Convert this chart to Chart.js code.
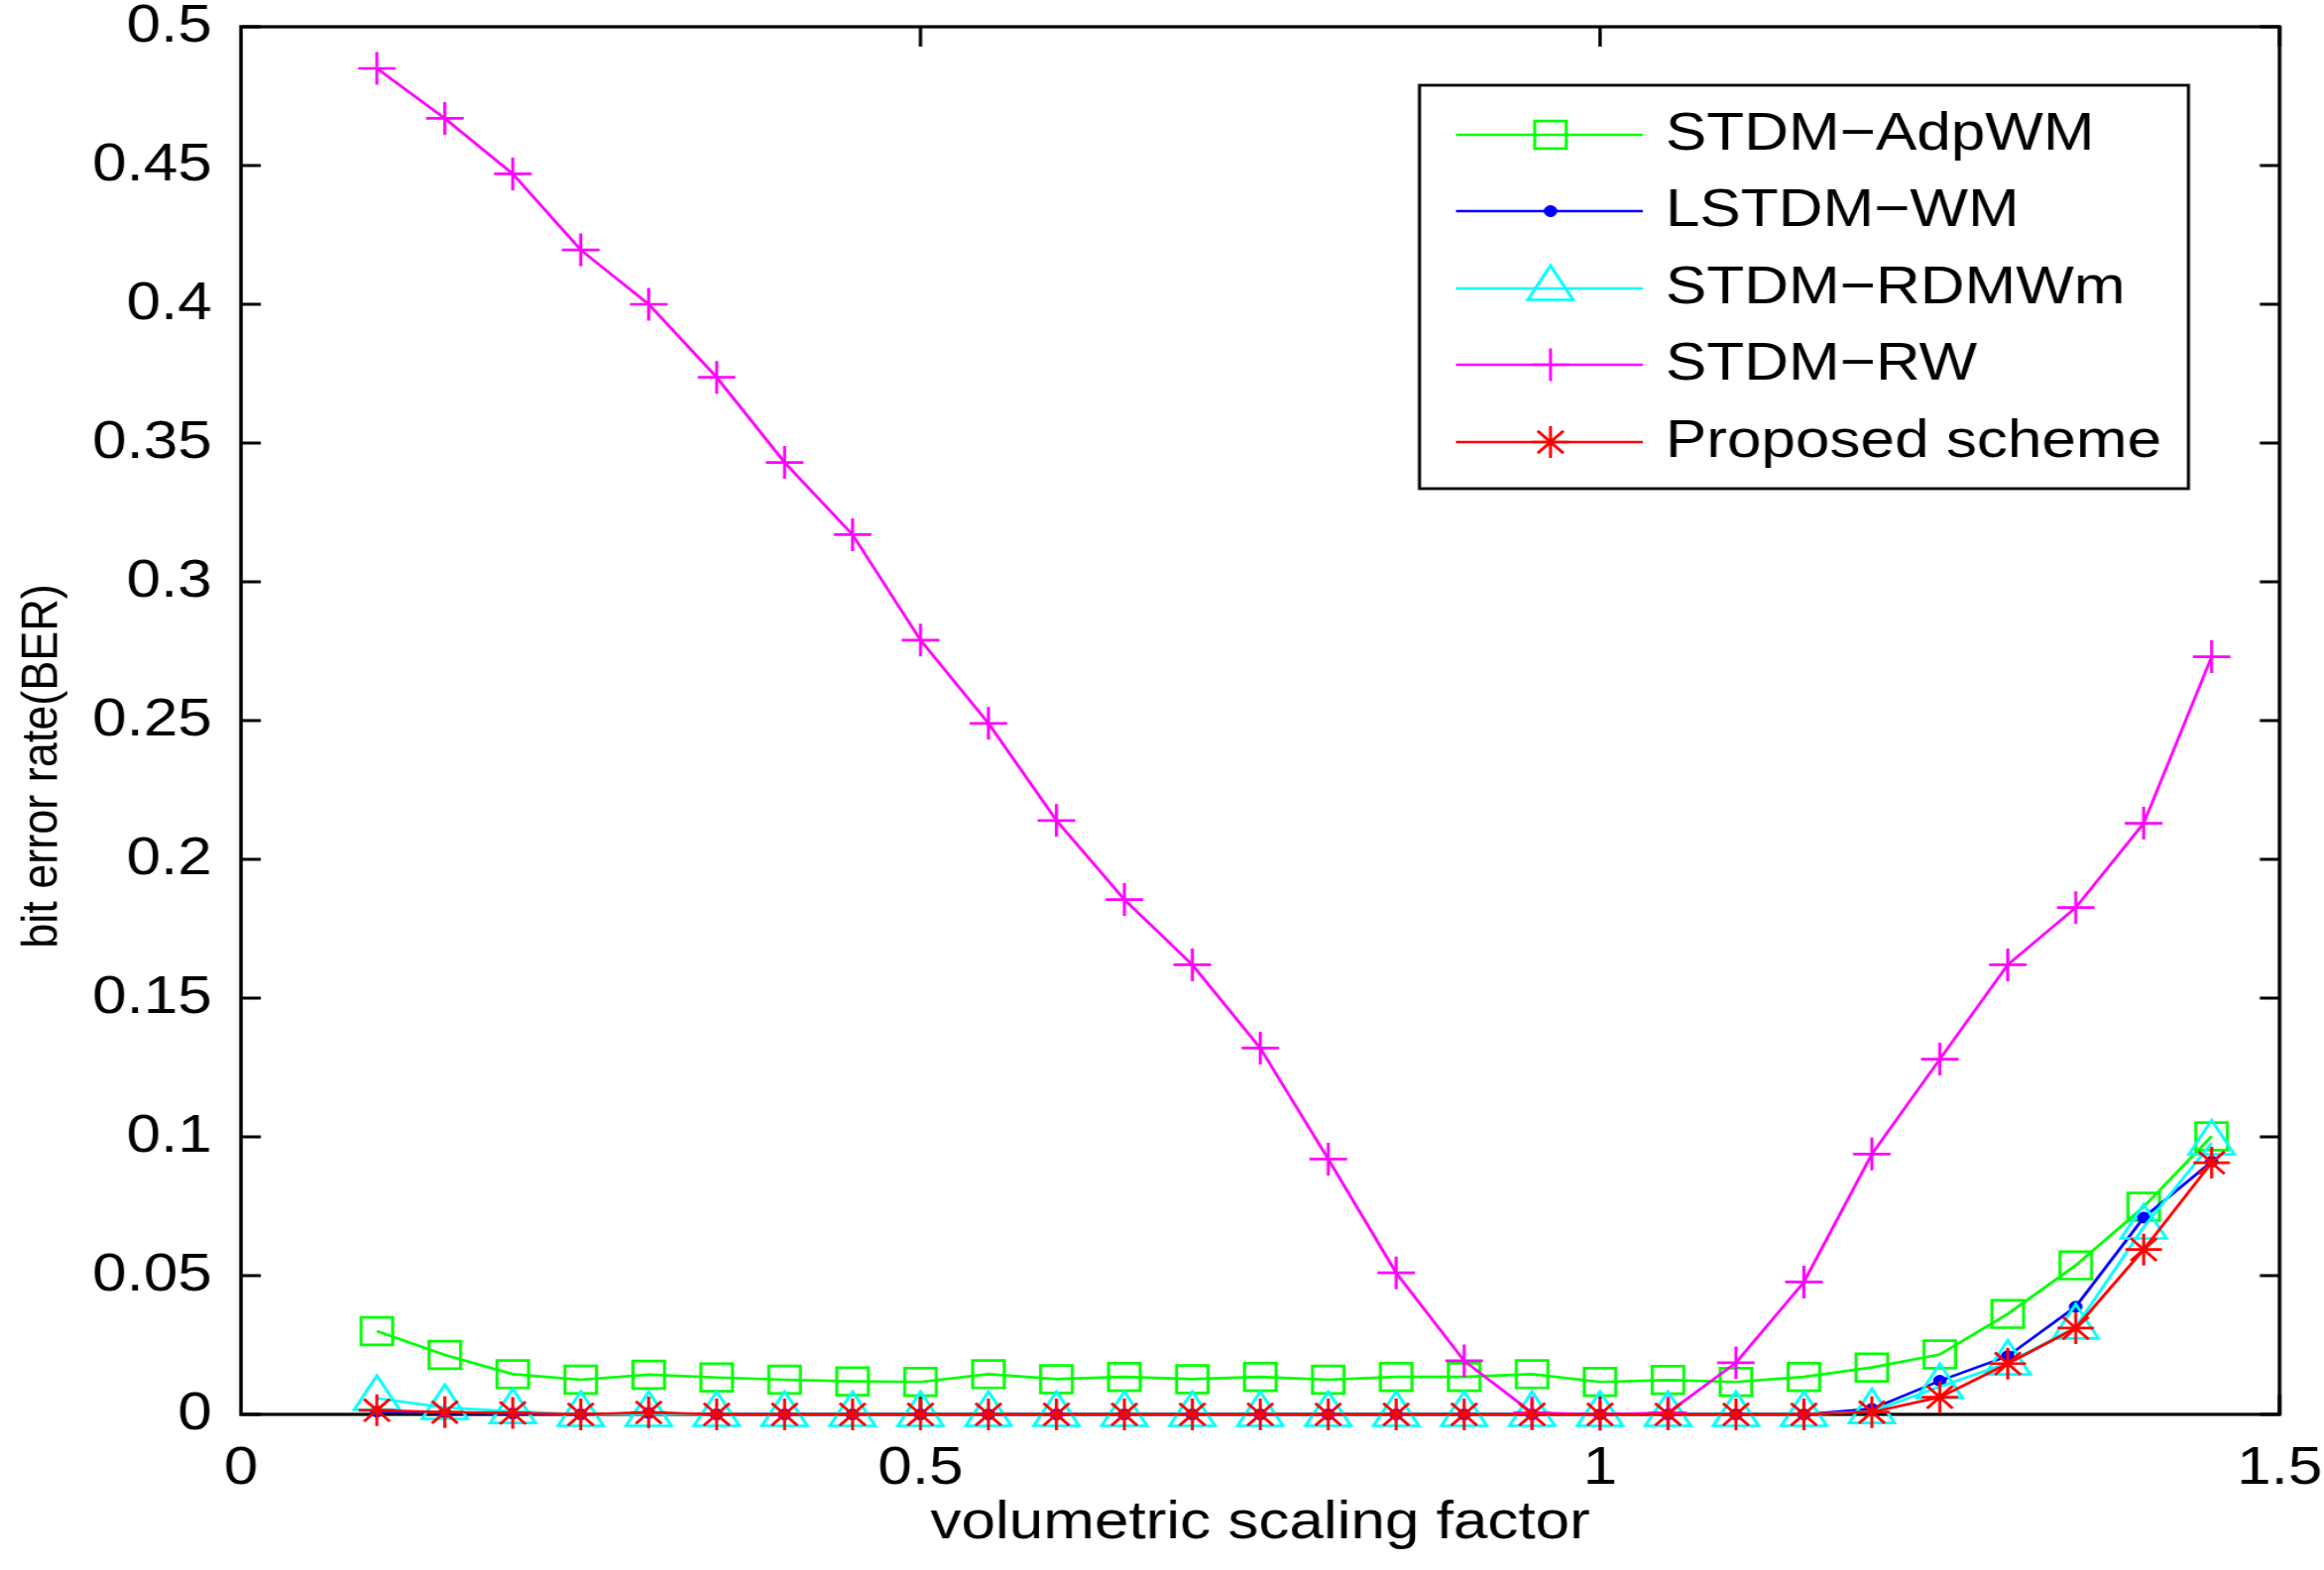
<!DOCTYPE html>
<html>
<head>
<meta charset="utf-8">
<script src="https://cdn.jsdelivr.net/npm/chart.js@4/dist/chart.umd.min.js"></script>
<style>
  html, body { margin: 0; padding: 0; background: #fff; overflow: hidden; }
</style>
</head>
<body>
<canvas id="c" width="2040" height="1584" style="display:block;width:2344px;height:1584px;"></canvas>
<script>
// ---------------- data ----------------
const xValues = [0.1, 0.15, 0.2, 0.25, 0.3, 0.35, 0.4, 0.45, 0.5, 0.55, 0.6, 0.65, 0.7, 0.75,
                 0.8, 0.85, 0.9, 0.95, 1.0, 1.05, 1.1, 1.15, 1.2, 1.25, 1.3, 1.35, 1.4, 1.45];

const stdmAdpWM = [0.030, 0.0214, 0.0145, 0.0125, 0.0143, 0.0133, 0.0125, 0.0119, 0.0117, 0.0145,
                   0.0127, 0.0135, 0.0127, 0.0135, 0.0125, 0.0135, 0.0135, 0.0145, 0.0117, 0.0124,
                   0.0117, 0.0135, 0.0169, 0.0216, 0.0362, 0.0537, 0.0748, 0.1002];

const lstdmWM = [0.001, 0.0005, 0.0003, 0, 0.0005, 0, 0, 0, 0, 0,
                 0, 0, 0, 0, 0, 0, 0, 0, 0, 0,
                 0, 0, 0.002, 0.0121, 0.021, 0.0388, 0.0709, 0.0911];

const stdmRDMWm = [0.0058, 0.0025, 0.001, 0, 0, 0, 0, 0, 0, 0,
                   0, 0, 0, 0, 0, 0, 0, 0, 0, 0,
                   0, 0, 0.001, 0.0100, 0.0185, 0.0315, 0.0675, 0.0978];

const stdmRW = [0.485, 0.467, 0.447, 0.4196, 0.400, 0.3737, 0.343, 0.317, 0.279, 0.249,
                0.214, 0.1855, 0.162, 0.132, 0.092, 0.051, 0.0193, 0.0006, 0, 0.0006,
                0.0186, 0.0477, 0.0938, 0.128, 0.162, 0.1826, 0.213, 0.273];

const proposedScheme = [0.0015, 0.0008, 0.0005, 0, 0.0007, 0, 0, 0, 0, 0,
                        0, 0, 0, 0, 0, 0, 0, 0, 0, 0,
                        0, 0, 0.0008, 0.0062, 0.0183, 0.0311, 0.0594, 0.0907];

const seriesNames = ['STDM\u2212AdpWM', 'LSTDM\u2212WM', 'STDM\u2212RDMWm', 'STDM\u2212RW', 'Proposed scheme'];

const xTickValues = [0, 0.5, 1, 1.5];
const xTickLabels = ['0', '0.5', '1', '1.5'];
const yTickValues = [0, 0.05, 0.1, 0.15, 0.2, 0.25, 0.3, 0.35, 0.4, 0.45, 0.5];
const yTickLabels = ['0', '0.05', '0.1', '0.15', '0.2', '0.25', '0.3', '0.35', '0.4', '0.45', '0.5'];

const xTitle = 'volumetric scaling factor';
const yTitle = 'bit error rate(BER)';

// ---------------- styling ----------------
const FONT = '"Liberation Sans", Arial, Helvetica, sans-serif';
const LW = 2.7;

function pts(arr) { return xValues.map((x, i) => ({ x: x, y: arr[i] })); }

function series(label, arr, color, style, radius, fill, order) {
  return {
    label: label,
    data: pts(arr),
    borderColor: color,
    backgroundColor: color,
    borderWidth: LW,
    pointStyle: style,
    pointRadius: radius,
    pointBorderWidth: style === 'circle' ? 1 : LW,
    pointBorderColor: color,
    pointBackgroundColor: fill ? color : 'rgba(0,0,0,0)',
    tension: 0,
    fill: false,
    clip: false,
    order: order
  };
}

const datasets = [
  series(seriesNames[0], stdmAdpWM, '#00ff00', 'rect', 19.6, false, 5),
  series(seriesNames[1], lstdmWM, '#0000ff', 'circle', 5.5, true, 4),
  series(seriesNames[2], stdmRDMWm, '#00ffff', 'triangle', 23, false, 3),
  series(seriesNames[3], stdmRW, '#ff00ff', 'cross', 16.5, false, 2),
  series(seriesNames[4], proposedScheme, '#ff0000', 'star', 16, false, 1)
];

// ---------------- plugins ----------------
const framePlugin = {
  id: 'matlabFrame',
  beforeDatasetsDraw(chart) {
    const { ctx, chartArea: a, scales } = chart;
    const xs = scales.x, ys = scales.y;
    ctx.save();
    ctx.strokeStyle = '#000';
    ctx.lineWidth = 3.2;
    ctx.strokeRect(a.left, a.top, a.right - a.left, a.bottom - a.top);
    ctx.lineWidth = 3.0;
    ctx.beginPath();
    ys.ticks.forEach(t => {
      const py = ys.getPixelForValue(t.value);
      ctx.moveTo(a.left, py); ctx.lineTo(a.left + 17.4, py);
      ctx.moveTo(a.right, py); ctx.lineTo(a.right - 17.4, py);
    });
    xs.ticks.forEach(t => {
      const px = xs.getPixelForValue(t.value);
      ctx.moveTo(px, a.bottom); ctx.lineTo(px, a.bottom - 20);
      ctx.moveTo(px, a.top); ctx.lineTo(px, a.top + 20);
    });
    ctx.stroke();
    // y axis title (MATLAB places it slightly below the axis centre)
    ctx.fillStyle = '#000';
    ctx.font = '45px ' + FONT;
    ctx.textAlign = 'center';
    ctx.textBaseline = 'middle';
    ctx.translate(37.4, (a.top + a.bottom) / 2 + 46);
    ctx.rotate(-Math.PI / 2);
    ctx.fillText(yTitle, 0, 0);
    ctx.restore();
  }
};

function fallbackPoint(ctx, o, x, y) {
  const r = o.radius;
  ctx.beginPath();
  if (o.pointStyle === 'rect') {
    const s = r * Math.SQRT1_2; ctx.rect(x - s, y - s, 2 * s, 2 * s);
  } else if (o.pointStyle === 'circle') {
    ctx.arc(x, y, r, 0, Math.PI * 2);
  } else if (o.pointStyle === 'triangle') {
    for (let k = 0; k < 3; k++) {
      const ang = k * 2 * Math.PI / 3;
      const px = x + Math.sin(ang) * r, py = y - Math.cos(ang) * r;
      if (k === 0) ctx.moveTo(px, py); else ctx.lineTo(px, py);
    }
    ctx.closePath();
  } else {
    ctx.moveTo(x - r, y); ctx.lineTo(x + r, y); ctx.moveTo(x, y - r); ctx.lineTo(x, y + r);
    if (o.pointStyle === 'star') {
      const d = r * Math.SQRT1_2;
      ctx.moveTo(x - d, y - d); ctx.lineTo(x + d, y + d); ctx.moveTo(x - d, y + d); ctx.lineTo(x + d, y - d);
    }
  }
  ctx.fill();
  if (o.borderWidth > 0) ctx.stroke();
}

const legendBox = { left: 1246, top: 86, right: 1921, bottom: 493,
                    rows: [136, 213, 291, 368, 446], x0: 1278, x1: 1442, mx: 1361, tx: 1462 };

const legendPlugin = {
  id: 'matlabLegend',
  afterDraw(chart) {
    const ctx = chart.ctx, L = legendBox;
    ctx.save();
    ctx.fillStyle = '#fff';
    ctx.fillRect(L.left, L.top, L.right - L.left, L.bottom - L.top);
    ctx.strokeStyle = '#000';
    ctx.lineWidth = 2.8;
    ctx.strokeRect(L.left, L.top, L.right - L.left, L.bottom - L.top);
    chart.data.datasets.forEach((ds, i) => {
      const yy = L.rows[i];
      ctx.strokeStyle = ds.borderColor;
      ctx.lineWidth = ds.borderWidth;
      ctx.beginPath(); ctx.moveTo(L.x0, yy); ctx.lineTo(L.x1, yy); ctx.stroke();
      ctx.fillStyle = ds.pointBackgroundColor;
      ctx.strokeStyle = ds.pointBorderColor;
      ctx.lineWidth = ds.pointBorderWidth;
      const o = { pointStyle: ds.pointStyle, radius: ds.pointRadius, rotation: 0, borderWidth: ds.pointBorderWidth };
      if (Chart.helpers && Chart.helpers.drawPoint) Chart.helpers.drawPoint(ctx, o, L.mx, yy);
      else fallbackPoint(ctx, o, L.mx, yy);
      ctx.fillStyle = '#000';
      ctx.font = '54px ' + FONT;
      ctx.textBaseline = 'middle';
      ctx.textAlign = 'left';
      ctx.fillText(ds.label, L.tx, yy);
    });
    ctx.restore();
  }
};

// ---------------- chart ----------------
new Chart(document.getElementById('c'), {
  type: 'line',
  data: { datasets: datasets },
  options: {
    responsive: false,
    devicePixelRatio: 1,
    animation: false,
    events: [],
    layout: { padding: { left: 0, right: 39, top: 27, bottom: 0 } },
    plugins: { legend: { display: false }, tooltip: { enabled: false } },
    scales: {
      x: {
        type: 'linear',
        min: 0, max: 1.5,
        grid: { display: false },
        border: { display: false },
        afterBuildTicks: s => { s.ticks = xTickValues.map(v => ({ value: v })); },
        afterFit: s => { s.height = 157; },
        ticks: {
          color: '#000', padding: 0, maxRotation: 0, autoSkip: false,
          font: { family: FONT, size: 54, lineHeight: 1.76 },
          callback: (v, i) => xTickLabels[i]
        },
        title: {
          display: true, text: xTitle, color: '#000',
          font: { family: FONT, size: 54, lineHeight: 1.2 },
          padding: { top: 0, bottom: 14.6 }
        }
      },
      y: {
        type: 'linear',
        min: 0, max: 0.5,
        grid: { display: false },
        border: { display: false },
        afterBuildTicks: s => { s.ticks = yTickValues.map(v => ({ value: v })); },
        afterFit: s => { s.width = 211.5; },
        ticks: {
          color: '#000', padding: 17.5, autoSkip: false,
          font: { family: FONT, size: 54, lineHeight: 0.3 },
          callback: (v, i) => yTickLabels[i]
        },
        title: { display: false, text: yTitle }
      }
    }
  },
  plugins: [framePlugin, legendPlugin]
});
</script>
</body>
</html>
